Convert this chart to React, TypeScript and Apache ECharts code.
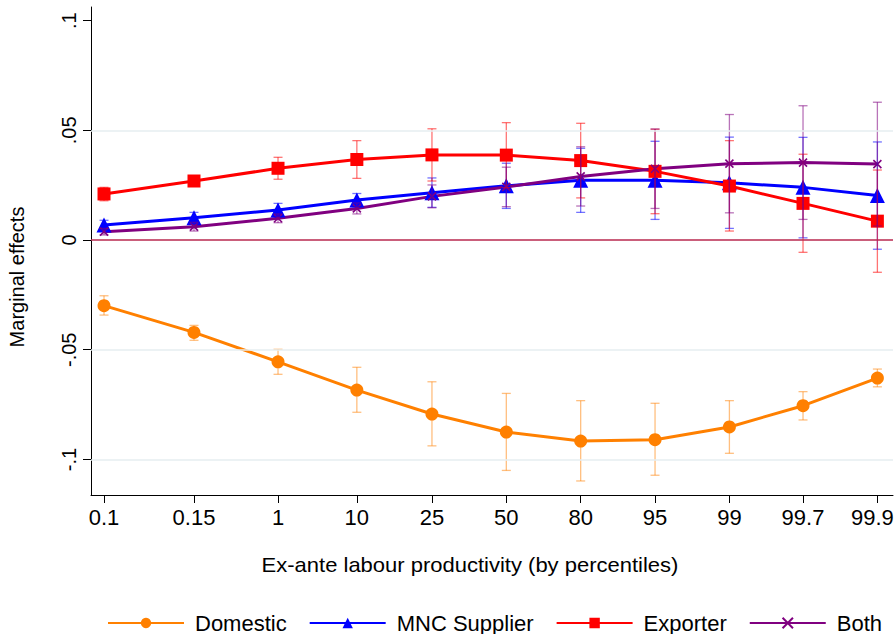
import React, { useEffect, useRef } from 'react';
import * as echarts from 'echarts';

const categories = ['0.1', '0.15', '1', '10', '25', '50', '80', '95', '99', '99.7', '99.9'];
// plotted x positions of the percentile categories (unevenly spaced in the original)
const xPos = [0, 1.21, 2.34, 3.4, 4.41, 5.41, 6.41, 7.41, 8.41, 9.4, 10.4];

const domestic = [-0.0299, -0.0421, -0.0555, -0.0684, -0.0793, -0.0875, -0.0916, -0.091, -0.0852, -0.0755, -0.0629];
const domesticLo = [-0.0342, -0.0457, -0.0612, -0.0785, -0.0938, -0.105, -0.1098, -0.1072, -0.0972, -0.082, -0.0669];
const domesticHi = [-0.0254, -0.0389, -0.0498, -0.058, -0.0646, -0.0699, -0.0732, -0.0744, -0.0732, -0.0691, -0.0588];

const mnc = [0.0068, 0.0102, 0.0137, 0.0182, 0.0216, 0.0247, 0.0272, 0.0272, 0.0261, 0.024, 0.0203];
const mncLo = [0.0046, 0.0078, 0.0107, 0.0152, 0.0149, 0.0144, 0.0126, 0.0094, 0.0053, 0.001, -0.0042];
const mncHi = [0.009, 0.0126, 0.0167, 0.0212, 0.0283, 0.035, 0.0418, 0.045, 0.0469, 0.0468, 0.0447];

const exporter = [0.021, 0.0269, 0.0327, 0.0367, 0.0388, 0.0387, 0.0362, 0.0313, 0.0246, 0.0167, 0.0086];
const exporterLo = [0.0179, 0.0254, 0.0277, 0.0281, 0.0269, 0.0239, 0.0192, 0.012, 0.0041, -0.0056, -0.0147];
const exporterHi = [0.024, 0.0284, 0.0377, 0.0453, 0.0507, 0.0535, 0.0532, 0.0505, 0.0453, 0.0391, 0.0319];

const both = [0.0038, 0.0061, 0.0099, 0.0144, 0.0199, 0.0242, 0.029, 0.0325, 0.0348, 0.0353, 0.0346];
const bothLo = [0.0023, 0.0041, 0.0079, 0.0119, 0.0147, 0.0152, 0.0155, 0.0144, 0.0124, 0.0094, 0.0064];
const bothHi = [0.0053, 0.0081, 0.0119, 0.0169, 0.0251, 0.0332, 0.0425, 0.0506, 0.0572, 0.0612, 0.0628];

const yTicks = [-0.1, -0.05, 0, 0.05, 0.1];
const yTickLabels = ['-.1', '-.05', '0', '.05', '.1'];
const gridValues = [-0.1, -0.05, 0.05];

const FONT = 'Liberation Sans, Arial, sans-serif';

const C_DOM = '#ff8000';
const C_MNC = '#0000ff';
const C_EXP = '#ff0000';
const C_BOTH = '#800080';

function errorSeries(name: string, lo: number[], hi: number[], color: string) {
  return {
    type: 'custom',
    name: name + ' CI',
    silent: true,
    z: 4,
    data: xPos.map((x, i) => [x, lo[i], hi[i]]),
    encode: { x: 0, y: [1, 2] },
    renderItem: (params: any, api: any) => {
      const x = api.value(0);
      const l = api.value(1);
      const h = api.value(2);
      const pTop = api.coord([x, h]);
      const pBot = api.coord([x, l]);
      const cw = 4.5;
      const style = { stroke: color, lineWidth: 1.3, fill: 'none' };
      return {
        type: 'group',
        children: [
          { type: 'line', shape: { x1: pTop[0], y1: pTop[1], x2: pBot[0], y2: pBot[1] }, style },
          { type: 'line', shape: { x1: pTop[0] - cw, y1: pTop[1], x2: pTop[0] + cw, y2: pTop[1] }, style },
          { type: 'line', shape: { x1: pBot[0] - cw, y1: pBot[1], x2: pBot[0] + cw, y2: pBot[1] }, style },
        ],
      };
    },
  };
}

function lineSeries(name: string, values: number[], color: string, symbol: string, size: number, extraItem: any = {}) {
  return {
    type: 'line',
    name,
    z: 3,
    data: xPos.map((x, i) => [x, values[i]]),
    symbol,
    symbolSize: size,
    showAllSymbol: true,
    lineStyle: { color, width: 3 },
    itemStyle: { color, ...extraItem },
  };
}

export default function App() {
  const ref = useRef<HTMLDivElement>(null);
  useEffect(() => {
    if (!ref.current) return;
    const chart = echarts.init(ref.current, undefined, { renderer: 'svg' });
    chart.setOption({
      animation: false,
      backgroundColor: '#ffffff',
      grid: { left: 91, right: 2, top: 7, bottom: 139, containLabel: false, outerBoundsMode: 'none' },
      xAxis: {
        type: 'value',
        min: -0.175,
        max: 10.61,
        axisLine: { show: true, onZero: false, lineStyle: { color: '#000', width: 1 } },
        axisTick: { show: true, customValues: xPos, length: 8, lineStyle: { color: '#000' } },
        axisLabel: {
          show: true,
          customValues: xPos,
          margin: 11,
          fontSize: 22,
          fontFamily: FONT,
          color: '#000',
          formatter: (v: number) => {
            const idx = xPos.indexOf(v);
            if (idx < 0) return '';
            return idx === xPos.length - 1 ? '{last|' + categories[idx] + '}' : categories[idx];
          },
          rich: {
            last: { fontSize: 22, fontFamily: FONT, color: '#000', padding: [0, 10, 0, 0] },
          },
        },
        splitLine: { show: false },
      },
      yAxis: {
        type: 'value',
        min: -0.1162,
        max: 0.1062,
        axisLine: { show: true, onZero: false, lineStyle: { color: '#000', width: 1 } },
        axisTick: { show: true, customValues: yTicks, length: 8, lineStyle: { color: '#000' } },
        axisLabel: {
          show: true,
          customValues: yTicks,
          rotate: 90,
          margin: 12,
          fontSize: 20,
          fontFamily: FONT,
          color: '#000',
          formatter: (v: number) => {
            const idx = yTicks.indexOf(v);
            return idx >= 0 ? yTickLabels[idx] : '';
          },
        },
        splitLine: { show: false },
      },
      legend: {
        data: ['Domestic', 'MNC Supplier', 'Exporter', 'Both'],
        left: 102,
        top: 607,
        itemWidth: 76,
        itemHeight: 13,
        itemGap: 22,
        textStyle: { fontSize: 22, fontFamily: FONT, color: '#000', padding: [0, 0, 0, 6] },
      },
      graphic: [
        {
          type: 'text',
          x: 17,
          y: 277,
          rotation: Math.PI / 2,
          style: {
            text: 'Marginal effects',
            fontSize: 20,
            fontFamily: FONT,
            fill: '#000',
            align: 'center',
            verticalAlign: 'middle',
          },
        },
        {
          type: 'text',
          x: 470,
          y: 565,
          scaleX: 1.1,
          style: {
            text: 'Ex-ante labour productivity (by percentiles)',
            fontSize: 20,
            fontFamily: FONT,
            fill: '#000',
            align: 'center',
            verticalAlign: 'middle',
          },
        },
      ],
      series: [
        {
          type: 'line',
          name: 'refLines',
          data: [],
          z: 1,
          silent: true,
          markLine: {
            silent: true,
            symbol: ['none', 'none'],
            label: { show: false },
            data: [
              ...gridValues.map((v) => ({ yAxis: v, lineStyle: { color: '#e6eef0', width: 1.5, type: 'solid' } })),
              { yAxis: 0, lineStyle: { color: '#b8284f', width: 1.5, type: 'solid' } },
            ],
          },
        },
        lineSeries('Domestic', domestic, C_DOM, 'circle', 13),
        lineSeries('MNC Supplier', mnc, C_MNC, 'triangle', 15),
        lineSeries('Exporter', exporter, C_EXP, 'rect', 13),
        lineSeries('Both', both, C_BOTH, 'path://M0,0L10,10M10,0L0,10', 8, { borderColor: C_BOTH, borderWidth: 1.6 }),
        errorSeries('Domestic', domesticLo, domesticHi, 'rgba(255,128,0,0.5)'),
        errorSeries('MNC Supplier', mncLo, mncHi, 'rgba(0,0,255,0.55)'),
        errorSeries('Exporter', exporterLo, exporterHi, 'rgba(255,0,0,0.55)'),
        errorSeries('Both', bothLo, bothHi, 'rgba(128,0,128,0.55)'),
      ],
    });
    return () => chart.dispose();
  }, []);
  return <div ref={ref} style={{ position: 'fixed', left: 0, top: 0, width: 895, height: 634 }} />;
}
